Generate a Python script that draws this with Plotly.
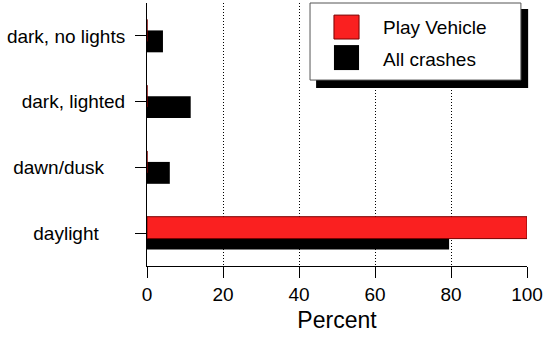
import plotly.graph_objects as go

# 照明条件（从下到上）
categories = ["daylight", "dawn/dusk", "dark, lighted", "dark, no lights"]
tick_labels = ["daylight\u00a0\u00a0\u00a0\u00a0\u00a0", "dawn/dusk\u00a0\u00a0\u00a0\u00a0",
               "dark, lighted", "dark, no lights"]
play_vehicle = [100, 0, 0, 0]
all_crashes = [79.5, 6.0, 11.5, 4.2]
x_ticks = [0, 20, 40, 60, 80, 100]

fig = go.Figure()
fig.add_trace(go.Bar(
    y=categories, x=all_crashes, orientation="h", name="All crashes",
    marker=dict(color="black", line=dict(width=0)),
    width=0.333, offset=-0.25,
))
fig.add_trace(go.Bar(
    y=categories, x=play_vehicle, orientation="h", name="Play Vehicle",
    marker=dict(color="#FA2020", line=dict(color="#7A0000", width=1)),
    width=0.333, offset=-0.083,
))

# 自定义图例（带阴影）
fig.add_shape(type="rect", xref="paper", yref="paper", x0=0.445, x1=1.003, y0=0.677, y1=0.977,
              fillcolor="black", line=dict(width=0), layer="above")
fig.add_shape(type="rect", xref="paper", yref="paper", x0=0.429, x1=0.984, y0=0.707, y1=1.0,
              fillcolor="white", line=dict(color="#555555", width=1), layer="above")
fig.add_shape(type="rect", xref="paper", yref="paper", x0=0.492, x1=0.558, y0=0.863, y1=0.954,
              fillcolor="#FA2020", line=dict(color="#7A0000", width=1), layer="above")
fig.add_shape(type="rect", xref="paper", yref="paper", x0=0.492, x1=0.558, y0=0.745, y1=0.840,
              fillcolor="black", line=dict(width=0), layer="above")
fig.add_annotation(text="Play Vehicle", xref="paper", yref="paper", x=0.616, y=0.905,
                   xanchor="left", yanchor="middle", showarrow=False,
                   font=dict(size=19, color="black"))
fig.add_annotation(text="All crashes", xref="paper", yref="paper", x=0.616, y=0.787,
                   xanchor="left", yanchor="middle", showarrow=False,
                   font=dict(size=19, color="black"))

fig.update_layout(
    width=545, height=341,
    margin=dict(l=147, r=18, t=3, b=75),
    barmode="overlay",
    showlegend=False,
    plot_bgcolor="white", paper_bgcolor="white",
    font=dict(family="Liberation Sans, Arial", size=19, color="black"),
)
fig.update_xaxes(
    range=[0, 100], tickvals=x_ticks, ticks="outside", ticklen=11, tickcolor="black",
    showline=True, linecolor="black", linewidth=1,
    showgrid=True, gridcolor="black", griddash="1px,2px", gridwidth=1,
    zeroline=False, automargin=False,
    title=dict(text="Percent", font=dict(size=23), standoff=8),
)
fig.update_yaxes(
    type="category", categoryorder="array", categoryarray=categories,
    tickvals=categories, ticktext=tick_labels,
    range=[-0.5, 3.5], ticks="outside", ticklen=11, tickcolor="black",
    showline=True, linecolor="black", linewidth=1, showgrid=False,
    ticklabelstandoff=6, automargin=False,
)

# 去掉页面默认边距
fig.write_html("out.html", config={"displayModeBar": False},
               post_script="document.body.style.margin='0px';")
